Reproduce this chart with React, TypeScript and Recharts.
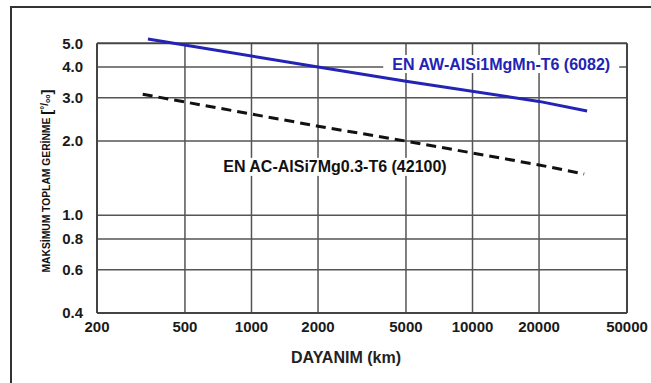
import React from 'react';
import { ComposedChart, Line, XAxis, YAxis, ReferenceLine, ReferenceDot } from 'recharts';

const xTicks = [200, 500, 1000, 2000, 5000, 10000, 20000, 50000];
const yTicks = [0.4, 0.6, 0.8, 1.0, 2.0, 3.0, 4.0, 5.0];
const xGrid = [500, 1000, 2000, 5000, 10000, 20000];
const yGrid = [0.6, 0.8, 1.0, 2.0, 3.0, 4.0];

const wroughtKm = [340, 2000, 5000, 20000, 33000];
const wroughtStrain = [5.2, 4.0, 3.5, 2.9, 2.65];
const castKm = [322, 2000, 5000, 20000, 32000];
const castStrain = [3.1, 2.3, 2.0, 1.6, 1.47];

const wroughtName = 'EN AW-AlSi1MgMn-T6 (6082)';
const castName = 'EN AC-AlSi7Mg0.3-T6 (42100)';
const wroughtLabelAt = { x: 13490, y: 4.115 };
const castLabelAt = { x: 2386, y: 1.571 };

const xMin = 200;
const xMax = 50000;
const yMin = 0.4;
const yMax = 5.0;

const wroughtData = wroughtKm.map((x, i) => ({ x, y: wroughtStrain[i] }));
const castData = castKm.map((x, i) => ({ x, y: castStrain[i] }));

const FONT = '"Liberation Sans", Arial, sans-serif';
const GRID = '#555';

const makeLabel = (text: string, color: string, w: number) => (props: any) => {
  const { cx, cy } = props;
  return (
    <g>
      <rect x={cx - w / 2} y={cy - 9} width={w} height={18} fill="#fff" />
      <text
        x={cx}
        y={cy}
        textAnchor="middle"
        dominantBaseline="central"
        fontFamily={FONT}
        fontWeight="bold"
        fontSize={16}
        fill={color}
      >
        {text}
      </text>
    </g>
  );
};

const YTitle = () => {
  const cx = 46;
  const cy = 181;
  return (
    <text
      x={cx}
      y={cy}
      transform={`rotate(-90 ${cx} ${cy})`}
      textAnchor="middle"
      dominantBaseline="central"
      fontFamily={FONT}
      fontWeight="bold"
      fill="#111"
    >
      <tspan fontSize={10.3}>MAKSİMUM TOPLAM GERİNME </tspan>
      <tspan fontSize={15}>[</tspan>
      <tspan fontSize={10} dy={-2}>°/</tspan>
      <tspan fontSize={7} dy={3}>oo</tspan>
      <tspan fontSize={15} dy={-1}>]</tspan>
    </text>
  );
};

export default function App() {
  return (
    <div style={{ position: 'absolute', left: 0, top: 0, width: 651, height: 383, background: '#fff', overflow: 'hidden' }}>
      <div
        style={{
          position: 'absolute',
          left: 10,
          top: 6,
          width: 700,
          height: 400,
          borderLeft: '2px solid #333',
          borderTop: '2px solid #333',
        }}
      />
      <div style={{ position: 'absolute', left: 0, top: 0 }}>
        <ComposedChart width={651} height={383} margin={{ top: 35, right: 24, bottom: 40, left: 40 }}>
          <XAxis
            type="number"
            dataKey="x"
            scale="log"
            domain={[xMin, xMax]}
            ticks={xTicks}
            allowDataOverflow={false}
            axisLine={false}
            tickLine={false}
            tickSize={0}
            tickMargin={8}
            height={30}
            interval={0}
            tick={{ fontFamily: FONT, fontWeight: 'bold', fontSize: 15, fill: '#1a1a1a' }}
            label={{
              value: 'DAYANIM (km)',
              position: 'insideBottom',
              offset: -20,
              dx: -16,
              style: { fontFamily: FONT, fontWeight: 'bold', fontSize: 16, fill: '#222' },
            }}
          />
          <YAxis
            type="number"
            dataKey="y"
            scale="log"
            domain={[0.4, 5.4]}
            ticks={yTicks}
            width={57}
            axisLine={false}
            tickLine={false}
            tickSize={0}
            tickMargin={14}
            interval={0}
            tickFormatter={(v: number) => v.toFixed(1)}
            tick={{ fontFamily: FONT, fontWeight: 'bold', fontSize: 15, fill: '#1a1a1a' }}
            label={<YTitle />}
          />
          {yGrid.map((v) => (
            <ReferenceLine key={'h' + v} segment={[{ x: xMin, y: v }, { x: xMax, y: v }]} stroke={GRID} strokeWidth={1.5} />
          ))}
          {xGrid.map((v) => (
            <ReferenceLine key={'v' + v} segment={[{ x: v, y: yMin }, { x: v, y: yMax }]} stroke={GRID} strokeWidth={1.5} />
          ))}
          <ReferenceLine segment={[{ x: xMin, y: yMin }, { x: xMax, y: yMin }]} stroke="#444" strokeWidth={2} />
          <ReferenceLine segment={[{ x: xMin, y: yMax }, { x: xMax, y: yMax }]} stroke="#444" strokeWidth={2} />
          <ReferenceLine segment={[{ x: xMin, y: yMin }, { x: xMin, y: yMax }]} stroke="#444" strokeWidth={2} />
          <ReferenceLine segment={[{ x: xMax, y: yMin }, { x: xMax, y: yMax }]} stroke="#444" strokeWidth={2} />
          <ReferenceDot x={wroughtLabelAt.x} y={wroughtLabelAt.y} r={0} shape={makeLabel(wroughtName, '#2323b5', 236)} />
          <ReferenceDot x={castLabelAt.x} y={castLabelAt.y} r={0} shape={makeLabel(castName, '#111', 232)} />
          <Line
            data={wroughtData}
            dataKey="y"
            type="linear"
            stroke="#2323b5"
            strokeWidth={3}
            dot={false}
            isAnimationActive={false}
          />
          <Line
            data={castData}
            dataKey="y"
            type="linear"
            stroke="#111"
            strokeWidth={3}
            strokeDasharray="10 6"
            dot={false}
            isAnimationActive={false}
          />
        </ComposedChart>
      </div>
    </div>
  );
}
